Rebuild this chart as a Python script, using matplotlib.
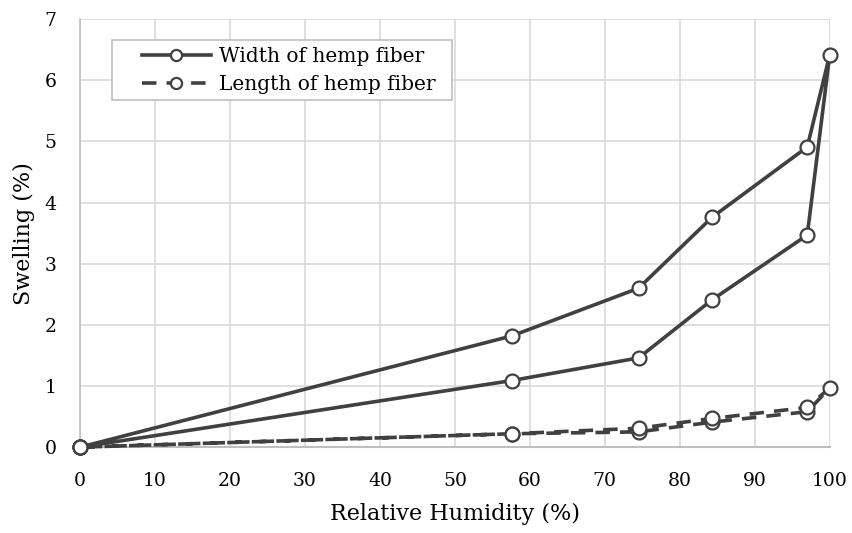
import matplotlib
matplotlib.use("Agg")
import matplotlib.pyplot as plt
from matplotlib.patches import Rectangle

# relative humidity steps: adsorption up to 100 %, then desorption back to 0
rh = [0, 57.6, 74.5, 84.3, 97.0, 100, 97.0, 84.3, 74.5, 57.6, 0]
width_swell = [0, 1.09, 1.46, 2.41, 3.47, 6.42, 4.91, 3.76, 2.60, 1.82, 0]
length_swell = [0, 0.22, 0.25, 0.41, 0.58, 0.97, 0.65, 0.47, 0.31, 0.22, 0]

plt.rcParams['font.family'] = ['DejaVu Serif']
plt.rcParams['font.size'] = 13

fig = plt.figure(figsize=(8.52, 5.33), dpi=100)
ax = fig.add_axes([0.0939, 0.161, 0.880, 0.803])

line_col = '#404040'
ax.plot(rh, width_swell, '-', color=line_col, lw=2.6, marker='o', ms=10,
        mfc='white', mec=line_col, mew=1.6, label='Width of hemp fiber',
        zorder=3, clip_on=False)
ax.plot(rh, length_swell, '--', color=line_col, lw=2.6, dashes=(4, 2.8),
        marker='o', ms=10, mfc='white', mec=line_col, mew=1.6,
        label='Length of hemp fiber', zorder=3, clip_on=False)

ax.set_xlim(0, 100)
ax.set_ylim(0, 7)
ax.set_xticks(range(0, 101, 10))
ax.set_yticks(range(0, 8))
ax.grid(True, color='#d9d9d9', lw=1.2)
ax.set_axisbelow(True)
for s in ['top', 'right']:
    ax.spines[s].set_visible(False)
ax.spines['left'].set_color('#bfbfbf')
ax.spines['bottom'].set_color('#bfbfbf')
ax.spines['left'].set_linewidth(1.2)
ax.spines['bottom'].set_linewidth(1.5)
ax.tick_params(length=0, labelsize=13.5)
ax.tick_params(axis='x', pad=18)
ax.tick_params(axis='y', pad=17)

ax.set_xlabel('Relative Humidity (%)', fontsize=16, labelpad=9)
ax.set_ylabel('Swelling (%)', fontsize=16, labelpad=7)

# legend frame drawn separately so the handles get the wider left margin
ax.add_patch(Rectangle((0.0427, 0.811), 0.453, 0.140, transform=ax.transAxes,
                       facecolor='white', edgecolor='#bfbfbf', lw=1.2, zorder=4))
leg = ax.legend(loc='upper left', bbox_to_anchor=(0.083, 0.935), fontsize=14.5,
                frameon=False, handlelength=3.4, handletextpad=0.4,
                borderpad=0, labelspacing=0.45, borderaxespad=0,
                markerscale=0.8)
leg.set_zorder(5)

fig.savefig('out.png', dpi=100)
